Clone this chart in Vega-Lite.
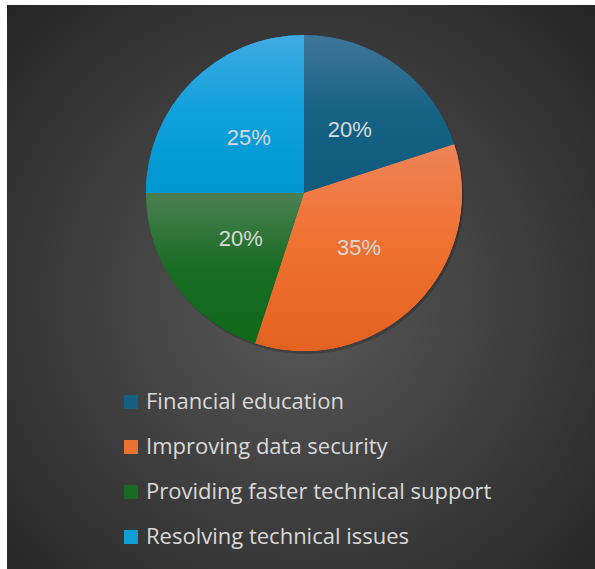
{
  "$schema": "https://vega.github.io/schema/vega-lite/v6.json",
  "width": 588,
  "height": 564,
  "autosize": {"type": "none"},
  "padding": {"left": 7, "top": 5, "right": 0, "bottom": 0},
  "background": "white",
  "data": {
    "values": [
      {"category": "Financial education", "value": 20, "label": "20%"},
      {"category": "Improving data security", "value": 35, "label": "35%"},
      {"category": "Providing faster technical support", "value": 20, "label": "20%"},
      {"category": "Resolving technical issues", "value": 25, "label": "25%"}
    ]
  },
  "layer": [
    {
      "data": {"values": [{}]},
      "mark": {
        "type": "rect",
        "fill": {"gradient": "radial", "x1": 0.5, "y1": 0.52, "r1": 0, "x2": 0.5, "y2": 0.52, "r2": 0.72, "stops": [{"offset": 0, "color": "#595959"}, {"offset": 1, "color": "#242424"}]}
      },
      "encoding": {
        "x": {"value": 0},
        "x2": {"value": "width"},
        "y": {"value": 0},
        "y2": {"value": "height"}
      }
    },
    {
      "mark": {"type": "arc", "radius": 158, "x": {"expr": "width*0.505+2"}, "y": {"expr": "height/3+3"}, "strokeWidth": 0, "fill": "#000000", "fillOpacity": 0.2},
      "encoding": {
        "theta": {"field": "value", "type": "quantitative", "stack": true},
        "order": {"field": "category", "type": "nominal"}
      }
    },
    {
      "mark": {"type": "arc", "radius": 158, "x": {"expr": "width*0.505"}, "y": {"expr": "height/3"}, "strokeWidth": 0},
      "encoding": {
        "theta": {"field": "value", "type": "quantitative", "stack": true},
        "order": {"field": "category", "type": "nominal"},
        "color": {
          "field": "category",
          "type": "nominal",
          "scale": {
            "domain": ["Financial education", "Improving data security", "Providing faster technical support", "Resolving technical issues"],
            "range": ["#156082", "#e97132", "#196b24", "#0f9ed5"]
          },
          "legend": {
            "orient": "none",
            "legendX": 113,
            "legendY": 386,
            "title": null,
            "direction": "vertical"
          }
        }
      }
    },
    {
      "mark": {"type": "arc", "radius": 158, "x": {"expr": "width*0.505"}, "y": {"expr": "height/3"}, "strokeWidth": 0},
      "encoding": {
        "theta": {"field": "value", "type": "quantitative", "stack": true},
        "order": {"field": "category", "type": "nominal"},
        "fill": {
          "condition": [
            {"test": "datum.category === 'Financial education'", "value": {"gradient": "linear", "x1": 0, "y1": 0, "x2": 0, "y2": 1, "stops": [{"offset": 0, "color": "#41759a"}, {"offset": 0.5, "color": "#156284"}, {"offset": 1, "color": "#0f5a7c"}]}},
            {"test": "datum.category === 'Improving data security'", "value": {"gradient": "linear", "x1": 0, "y1": 0, "x2": 0, "y2": 1, "stops": [{"offset": 0, "color": "#ee8456"}, {"offset": 0.5, "color": "#f07030"}, {"offset": 1, "color": "#e4621f"}]}},
            {"test": "datum.category === 'Providing faster technical support'", "value": {"gradient": "linear", "x1": 0, "y1": 0, "x2": 0, "y2": 1, "stops": [{"offset": 0, "color": "#4c7f54"}, {"offset": 0.5, "color": "#186d22"}, {"offset": 1, "color": "#10681b"}]}}
          ],
          "value": {"gradient": "linear", "x1": 0, "y1": 0, "x2": 0, "y2": 1, "stops": [{"offset": 0, "color": "#40abe2"}, {"offset": 0.5, "color": "#0ea0dc"}, {"offset": 1, "color": "#0096cf"}]}
        }
      }
    },
    {
      "mark": {"type": "text", "radius": 78, "x": {"expr": "width*0.505"}, "y": {"expr": "height/3"}, "font": "Liberation Sans", "fontSize": 22, "fill": "#d9d9d9"},
      "encoding": {
        "theta": {"field": "value", "type": "quantitative", "stack": true},
        "order": {"field": "category", "type": "nominal"},
        "detail": {"field": "category", "type": "nominal"},
        "text": {"field": "label", "type": "nominal"}
      }
    }
  ],
  "config": {
    "view": {"stroke": null},
    "legend": {
      "symbolType": "square",
      "symbolSize": 196,
      "symbolStrokeWidth": 0,
      "symbolOpacity": 1,
      "labelFont": "Open Sans",
      "labelFontSize": 22,
      "labelColor": "#d9d9d9",
      "labelOffset": 4,
      "rowPadding": 23,
      "padding": 0,
      "labelLimit": 500
    }
  }
}
